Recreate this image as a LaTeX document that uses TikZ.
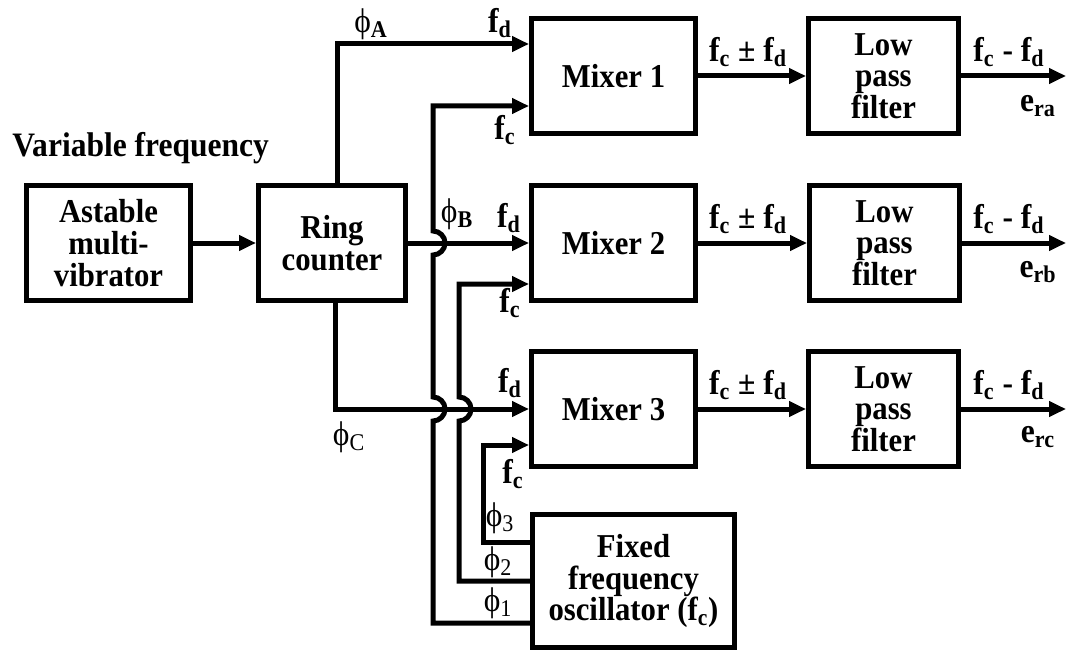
\documentclass[tikz,border=0pt]{standalone}
\usepackage{fontspec}
\setmainfont{Liberation Serif}[FakeStretch=0.92]
\usetikzlibrary{arrows.meta, calc, positioning}

\begin{document}
\begin{tikzpicture}[block/.style={draw, line width=0.1cm, align=center, inner sep=0pt, font=\bfseries\fontsize{19}{18}\selectfont},
    wire/.style={line width=0.1cm},
    arr/.style={wire, -{Triangle[length=0.34cm, width=0.3cm]}},
    sig/.style={inner sep=0pt, font=\bfseries\fontsize{19.5}{19.5}\selectfont}]
    \useasboundingbox (0,0) rectangle (21.34,-13.08);

    \node[sig, anchor=base west] (vartitle) at (0.24,-3.14) {Variable frequency};

    \node[block, minimum width=3.28cm, minimum height=2.3cm] (astable) at (2.17,-4.86) {Astable\\multi-\\vibrator};
    \node[block, minimum width=2.94cm, minimum height=2.3cm] (ring) at (6.64,-4.86) {Ring\\counter};

    \node[block, minimum width=3.28cm, minimum height=2.3cm] (mix1) at (12.27,-1.52) {Mixer 1};
    \node[block, minimum width=3.28cm, minimum height=2.3cm] (mix2) at (12.27,-4.86) {Mixer 2};
    \node[block, minimum width=3.28cm, minimum height=2.3cm] (mix3) at (12.27,-8.18) {Mixer 3};

    \node[block, minimum width=3cm, minimum height=2.3cm] (lpf1) at (17.67,-1.52) {Low\\pass\\filter};
    \node[block, minimum width=3cm, minimum height=2.3cm] (lpf2) at (17.69,-4.86) {Low\\pass\\filter};
    \node[block, minimum width=3cm, minimum height=2.3cm] (lpf3) at (17.67,-8.18) {Low\\pass\\filter};

    \node[block, minimum width=4.04cm, minimum height=2.66cm] (osc) at (12.67,-11.62) {Fixed\\frequency\\oscillator (f\textsubscript{c})};

    \coordinate (busone) at (8.66,0);
    \coordinate (bustwo) at (9.18,0);
    \coordinate (busthree) at (9.66,0);
    \coordinate (mix1fc) at ([yshift=-0.6cm]mix1.west);
    \coordinate (mix2fc) at ([yshift=-0.82cm]mix2.west);
    \coordinate (mix3fc) at ([yshift=-0.72cm]mix3.west);
    \coordinate (outa) at (21.32,-1.52);
    \coordinate (outb) at (21.32,-4.86);
    \coordinate (outc) at (21.32,-8.18);

    \draw[arr] (astable) -- (ring);
    \draw[arr] ([xshift=0.1cm]ring.north) |- ([yshift=0.64cm]mix1.west);
    \draw[arr] (ring.east) -- (mix2.west);
    \draw[arr] ([xshift=0.06cm]ring.south) |- (mix3.west);

    \draw[arr] ([yshift=-0.84cm]osc.west) -| ($(busone |- mix3.west)+(0,-0.24)$)
        arc[start angle=-90, end angle=90, radius=0.24cm] -- ($(busone |- mix2.west)+(0,-0.24)$)
        arc[start angle=-90, end angle=90, radius=0.24cm] |- (mix1fc);
    \draw[arr] (osc.west) -| ($(bustwo |- mix3.west)+(0,-0.24)$)
        arc[start angle=-90, end angle=90, radius=0.24cm] |- (mix2fc);
    \draw[arr] ([yshift=0.78cm]osc.west) -| (busthree |- mix3fc) -- (mix3fc);

    \draw[arr] (mix1) -- (lpf1);
    \draw[arr] (mix2) -- (lpf2);
    \draw[arr] (mix3) -- (lpf3);
    \draw[arr] (lpf1) -- (outa);
    \draw[arr] (lpf2) -- (outb);
    \draw[arr] (lpf3) -- (outc);

    \node[sig] (phiA) at (7.42,-0.48) {\mdseries ϕ\textsubscript{\bfseries A}};
    \node[sig] (phiB) at (9.14,-4.28) {\mdseries ϕ\textsubscript{\bfseries B}};
    \node[sig] (phiC) at (6.98,-8.74) {\mdseries ϕ\textsubscript{C}};
    \node[sig] (phithree) at (10.0,-10.36) {\mdseries ϕ\textsubscript{3}};
    \node[sig] (phitwo) at (9.96,-11.24) {\mdseries ϕ\textsubscript{2}};
    \node[sig] (phione) at (9.96,-12.06) {\mdseries ϕ\textsubscript{1}};

    \node[sig] (fdone) at (10.0,-0.46) {f\textsubscript{d}};
    \node[sig] (fcone) at (10.1,-2.6) {f\textsubscript{c}};
    \node[sig] (fdtwo) at (10.18,-4.36) {f\textsubscript{d}};
    \node[sig] (fctwo) at (10.2,-6.06) {f\textsubscript{c}};
    \node[sig] (fdthree) at (10.2,-7.66) {f\textsubscript{d}};
    \node[sig] (fcthree) at (10.26,-9.48) {f\textsubscript{c}};

    \node[sig] (sumone) at (14.96,-1.04) {f\textsubscript{c} ± f\textsubscript{d}};
    \node[sig] (sumtwo) at (14.96,-4.38) {f\textsubscript{c} ± f\textsubscript{d}};
    \node[sig] (sumthree) at (14.96,-7.7) {f\textsubscript{c} ± f\textsubscript{d}};

    \node[sig] (diffone) at (20.18,-1.04) {f\textsubscript{c} - f\textsubscript{d}};
    \node[sig] (difftwo) at (20.18,-4.38) {f\textsubscript{c} - f\textsubscript{d}};
    \node[sig] (diffthree) at (20.18,-7.7) {f\textsubscript{c} - f\textsubscript{d}};

    \node[sig] (era) at (20.76,-2.12) {e\textsubscript{ra}};
    \node[sig] (erb) at (20.76,-5.44) {e\textsubscript{rb}};
    \node[sig] (erc) at (20.76,-8.74) {e\textsubscript{rc}};
\end{tikzpicture}
\end{document}
